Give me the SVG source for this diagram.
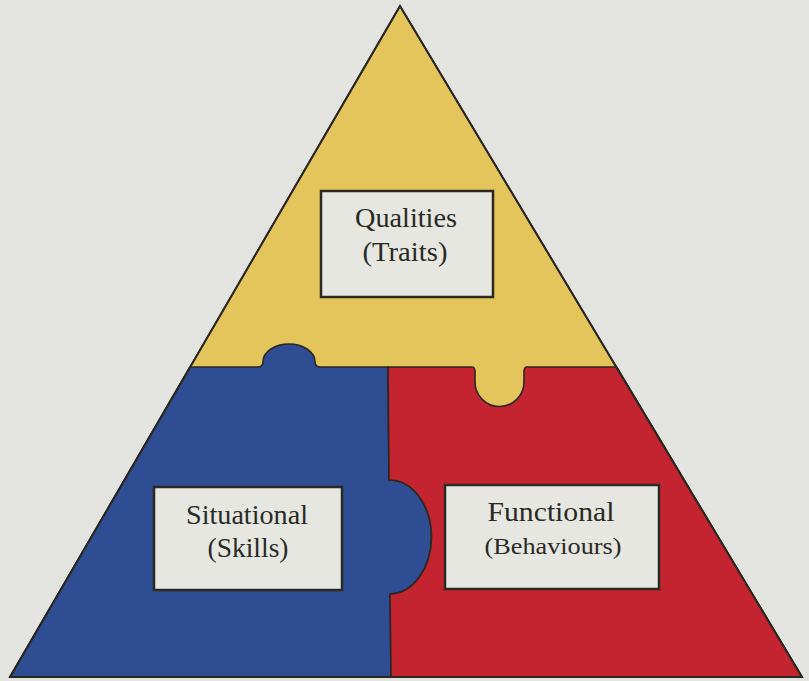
<svg xmlns="http://www.w3.org/2000/svg" width="809" height="681" viewBox="0 0 809 681">
  <style>
    .piece { stroke: #2a2620; stroke-width: 1.6; stroke-linejoin: round; }
    .box { fill: #e7e7e2; stroke: #2b2a22; stroke-width: 2.5; }
    .lbl { font-family: "Liberation Serif", "DejaVu Serif", serif; font-size: 27px; fill: #2a2a25; text-anchor: middle; }
    .sub { font-size: 24px; }
  </style>
  <rect x="0" y="0" width="809" height="681" fill="#e3e4e0"/>
  <g id="pyramid">
    <path id="yellow-piece" class="piece" fill="#e4c55c" d="M400,6 L802,677 L10,677 Z"/>
    <path id="blue-piece" class="piece" fill="#2f4d92" d="M190,367 L257,367 C261,367 263,365 263,362 A26,18 0 0 1 315,362 C315,365 317,367 321,367 L388,367 L389,480 A42,57 0 0 1 390,594 L391,677 L10,677 Z"/>
    <path id="red-piece" class="piece" fill="#c4242f" d="M388,367 L472,367 C474,367 475,369 475,372 L475,382 A24.5,24.5 0 0 0 524,382 L524,372 C524,369 525,367 527,367 L616.6,367 L802,677 L391,677 L390,594 A42,57 0 0 0 389,480 Z"/>
    <path id="outline" d="M400,6 L802,677 L10,677 Z" fill="none" stroke="#2a2620" stroke-width="2"/>
  </g>
  <g id="qualities">
    <rect class="box" x="321" y="191" width="172" height="106"/>
    <text class="lbl" x="406" y="227" textLength="102" lengthAdjust="spacingAndGlyphs">Qualities</text>
    <text class="lbl" x="405" y="261" textLength="85" lengthAdjust="spacingAndGlyphs">(Traits)</text>
  </g>
  <g id="situational">
    <rect class="box" x="154" y="487" width="188" height="103"/>
    <text class="lbl" x="247" y="524" textLength="122" lengthAdjust="spacingAndGlyphs">Situational</text>
    <text class="lbl" x="248" y="557" textLength="81" lengthAdjust="spacingAndGlyphs">(Skills)</text>
  </g>
  <g id="functional">
    <rect class="box" x="445" y="485" width="214" height="104"/>
    <text class="lbl" x="551" y="521" textLength="127" lengthAdjust="spacingAndGlyphs">Functional</text>
    <text class="lbl sub" x="553" y="554" textLength="137" lengthAdjust="spacingAndGlyphs">(Behaviours)</text>
  </g>
</svg>
